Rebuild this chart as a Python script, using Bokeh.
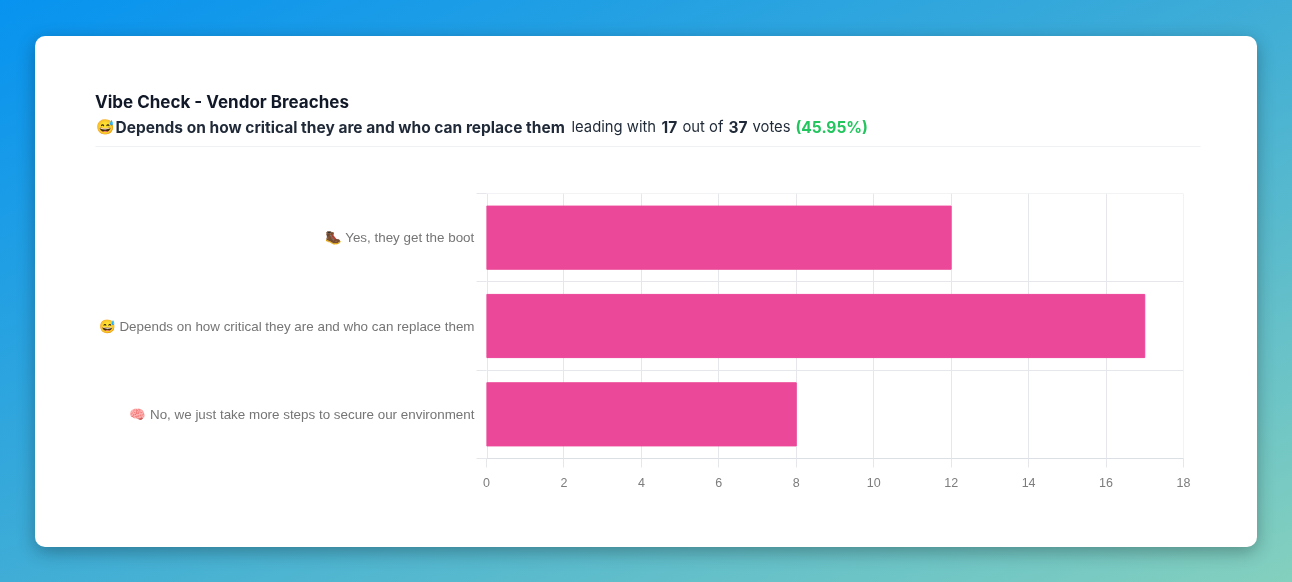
from bokeh.plotting import figure
from bokeh.embed import file_html
from bokeh.resources import INLINE
from bokeh.layouts import column
from bokeh.models import Range1d, FixedTicker, Label, GlobalInlineStyleSheet

categories = ["\U0001F97E Yes, they get the boot",
              "\U0001F605 Depends on how critical they are and who can replace them",
              "\U0001F9E0 No, we just take more steps to secure our environment"]
votes = [12, 17, 8]
x_ticks = [0, 2, 4, 6, 8, 10, 12, 14, 16, 18]
band_edges = [0, 1, 2, 3]
band_centers = [2.5, 1.5, 0.5]
title_text = "Vibe Check - Vendor Breaches"
subtitle_parts = [("\U0001F605", "normal", "#1f2937", 95),
                  ("Depends on how critical they are and who can replace them", "bold", "#1f2937", 115),
                  ("leading with", "normal", "#1f2937", 571),
                  ("17", "bold", "#1f2937", 661),
                  ("out of", "normal", "#1f2937", 682),
                  ("37", "bold", "#1f2937", 728),
                  ("votes", "normal", "#1f2937", 752),
                  ("(45.95%)", "bold", "#22c55e", 795)]

W, H = 1292, 582
HEAD = 192
css = """
html { background:linear-gradient(to bottom right,#0793f0 0%,#3fadd6 50%,#84d0be 100%); height:100%; }
body { margin:0; padding:0; overflow:hidden; background:transparent; }
body::before { content:""; position:fixed; left:35px; top:36px; width:1222px; height:511px;
  background:#fff; border-radius:10px; box-shadow:0 5px 18px rgba(0,0,0,.3); z-index:-1; }
"""

# header: a frame that fills its figure, so pixels can be addressed directly
h = figure(width=W, height=HEAD, output_backend="svg", toolbar_location=None,
           x_range=Range1d(0, W), y_range=Range1d(HEAD, 0), frame_align=False,
           min_border=0, background_fill_color=None, border_fill_color=None, outline_line_color=None)
h.axis.visible = False
h.grid.visible = False
h.stylesheets = [GlobalInlineStyleSheet(css=css)]
for text, style, color, x in subtitle_parts:
    size = "15.5px" if style == "bold" else "14.8px"
    h.add_layout(Label(x=x, y=126.5, text=text, text_font="Inter", text_font_size=size,
                       text_font_style=style, text_color=color, text_baseline="middle"))
h.add_layout(Label(x=94.5, y=101, text=title_text, text_font="Inter", text_font_size="17px",
                   text_font_style="bold", text_color="#111827", text_baseline="middle"))
h.segment(x0=[95], y0=[146], x1=[1200], y1=[146], line_color="#f0f1f3", line_width=1)

p = figure(width=W, height=H-HEAD, output_backend="svg", toolbar_location=None,
           y_range=Range1d(0, 3), x_range=Range1d(0, 18), frame_align=False,
           min_border_left=486, min_border_right=W-1183, min_border_top=1, min_border_bottom=H-458,
           background_fill_color=None, border_fill_color=None, outline_line_color=None)

p.hbar(y=band_centers, right=votes, left=0, height=0.715, color="#ec4899")

grid = "#e5e7eb"
# a Grid skips lines exactly on the range ends, so the frame edges are nudged just inside
p.xgrid.ticker = FixedTicker(ticks=[0.03] + x_ticks[1:-1] + [17.99])
p.xgrid.grid_line_color = grid
p.ygrid.ticker = FixedTicker(ticks=band_edges[1:-1] + [2.999])
p.ygrid.grid_line_color = grid

ax = p.xaxis[0]
ax.ticker = FixedTicker(ticks=x_ticks)
ax.axis_line_color = "#dcdfe4"
ax.major_tick_line_color = grid
ax.major_tick_out = 9
ax.major_tick_in = 0
ax.minor_tick_line_color = None
ax.major_label_text_font = "Liberation Sans"
ax.major_label_text_font_size = "12.5px"
ax.major_label_text_color = "#7d7d7d"
ax.major_label_standoff = 10

ay = p.yaxis[0]
ay.ticker = FixedTicker(ticks=band_centers, minor_ticks=band_edges)
ay.major_label_overrides = dict(zip(band_centers, categories))
ay.axis_line_color = None
ay.major_tick_line_color = None
ay.major_tick_out = 0
ay.major_tick_in = 0
ay.minor_tick_line_color = grid
ay.minor_tick_out = 10
ay.minor_tick_in = 0
ay.major_label_text_font = "Liberation Sans"
ay.major_label_text_font_size = "13.4px"
ay.major_label_text_color = "#757575"
ay.major_label_standoff = 2

open("out.html", "w").write(file_html(column(h, p, spacing=0), INLINE))
